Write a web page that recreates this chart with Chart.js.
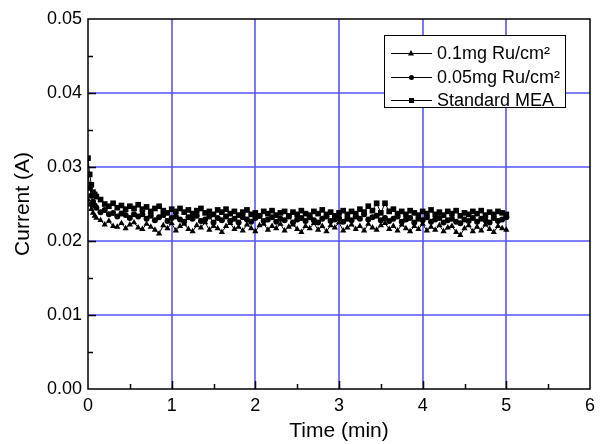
<!DOCTYPE html>
<html>
<head>
<meta charset="utf-8">
<script src="https://cdn.jsdelivr.net/npm/chart.js@4.4.0/dist/chart.umd.min.js"></script>
<style>
  html, body { margin: 0; padding: 0; background: #fff; }
  #wrap { width: 603px; height: 444px; }
</style>
</head>
<body>
<div id="wrap"><canvas id="grafico" width="603" height="444"></canvas></div>
<script>
// tempo (min)
var tempos = [
  0, 0.02, 0.04, 0.06, 0.08, 0.10,
  0.15, 0.20, 0.25, 0.30, 0.35, 0.40, 0.45, 0.50, 0.55, 0.60,
  0.65, 0.70, 0.75, 0.80, 0.85, 0.90, 0.95, 1.00, 1.05, 1.10,
  1.15, 1.20, 1.25, 1.30, 1.35, 1.40, 1.45, 1.50, 1.55, 1.60,
  1.65, 1.70, 1.75, 1.80, 1.85, 1.90, 1.95, 2.00, 2.05, 2.10,
  2.15, 2.20, 2.25, 2.30, 2.35, 2.40, 2.45, 2.50, 2.55, 2.60,
  2.65, 2.70, 2.75, 2.80, 2.85, 2.90, 2.95, 3.00, 3.05, 3.10,
  3.15, 3.20, 3.25, 3.30, 3.35, 3.40, 3.45, 3.50, 3.55, 3.60,
  3.65, 3.70, 3.75, 3.80, 3.85, 3.90, 3.95, 4.00, 4.05, 4.10,
  4.15, 4.20, 4.25, 4.30, 4.35, 4.40, 4.45, 4.50, 4.55, 4.60,
  4.65, 4.70, 4.75, 4.80, 4.85, 4.90, 4.95, 5.00
];

// corrente (A)
var corrente01mg = [
  0.0256, 0.0249, 0.0243, 0.0238, 0.0234, 0.0231,
  0.0228, 0.0222, 0.0227, 0.0220, 0.0219, 0.0224, 0.0217, 0.0222, 0.0225, 0.0218,
  0.0216, 0.0223, 0.0219, 0.0215, 0.0210, 0.0221, 0.0217, 0.0224, 0.0214, 0.0220,
  0.0223, 0.0216, 0.0213, 0.0221, 0.0218, 0.0225, 0.0215, 0.0220, 0.0217, 0.0212,
  0.0220, 0.0224, 0.0216, 0.0219, 0.0214, 0.0222, 0.0217, 0.0213, 0.0221, 0.0223,
  0.0215, 0.0220, 0.0217, 0.0223, 0.0214, 0.0219, 0.0222, 0.0216, 0.0212, 0.0220,
  0.0217, 0.0224, 0.0215, 0.0220, 0.0213, 0.0221, 0.0218, 0.0225, 0.0214, 0.0218,
  0.0222, 0.0216, 0.0220, 0.0214, 0.0223, 0.0218, 0.0215, 0.0221, 0.0224, 0.0216,
  0.0220, 0.0214, 0.0222, 0.0217, 0.0213, 0.0220, 0.0216, 0.0223, 0.0214, 0.0219,
  0.0215, 0.0221, 0.0213, 0.0218, 0.0220, 0.0212, 0.0208, 0.0217, 0.0221, 0.0213,
  0.0219, 0.0214, 0.0222, 0.0216, 0.0212, 0.0220, 0.0217, 0.0215
];

var corrente005mg = [
  0.0290, 0.0272, 0.0261, 0.0253, 0.0248, 0.0245,
  0.0239, 0.0242, 0.0236, 0.0238, 0.0233, 0.0237, 0.0235, 0.0231, 0.0236, 0.0233,
  0.0236, 0.0230, 0.0234, 0.0228, 0.0232, 0.0235, 0.0227, 0.0231, 0.0233, 0.0229,
  0.0226, 0.0232, 0.0230, 0.0234, 0.0227, 0.0229, 0.0233, 0.0225, 0.0231, 0.0228,
  0.0233, 0.0227, 0.0230, 0.0225, 0.0232, 0.0229, 0.0226, 0.0231, 0.0234, 0.0227,
  0.0229, 0.0232, 0.0226, 0.0230, 0.0228, 0.0233, 0.0225, 0.0229, 0.0231, 0.0227,
  0.0232, 0.0228, 0.0225, 0.0230, 0.0233, 0.0227, 0.0229, 0.0231, 0.0226, 0.0230,
  0.0228, 0.0233, 0.0230, 0.0236, 0.0229, 0.0232, 0.0234, 0.0228, 0.0231, 0.0227,
  0.0230, 0.0233, 0.0226, 0.0229, 0.0231, 0.0225, 0.0230, 0.0228, 0.0232, 0.0226,
  0.0229, 0.0231, 0.0225, 0.0228, 0.0230, 0.0226, 0.0224, 0.0229, 0.0227, 0.0231,
  0.0226, 0.0230, 0.0228, 0.0225, 0.0231, 0.0227, 0.0229, 0.0232
];

var correntePadrao = [
  0.0312, 0.0290, 0.0276, 0.0266, 0.0263, 0.0260,
  0.0256, 0.0250, 0.0247, 0.0251, 0.0245, 0.0248, 0.0243, 0.0247, 0.0244, 0.0249,
  0.0243, 0.0246, 0.0240, 0.0244, 0.0247, 0.0241, 0.0238, 0.0243, 0.0240, 0.0244,
  0.0239, 0.0242, 0.0237, 0.0241, 0.0244, 0.0238, 0.0240, 0.0236, 0.0242, 0.0239,
  0.0243, 0.0237, 0.0240, 0.0235, 0.0239, 0.0242, 0.0236, 0.0238, 0.0234, 0.0240,
  0.0237, 0.0241, 0.0235, 0.0238, 0.0240, 0.0234, 0.0239, 0.0236, 0.0241, 0.0237,
  0.0235, 0.0240, 0.0237, 0.0242, 0.0236, 0.0239, 0.0234, 0.0238, 0.0241, 0.0236,
  0.0240, 0.0237, 0.0243, 0.0239, 0.0247, 0.0241, 0.0251, 0.0238, 0.0251, 0.0240,
  0.0243, 0.0237, 0.0240, 0.0236, 0.0241, 0.0238, 0.0235, 0.0240, 0.0237, 0.0242,
  0.0236, 0.0239, 0.0235, 0.0240, 0.0237, 0.0241, 0.0234, 0.0238, 0.0236, 0.0240,
  0.0237, 0.0241, 0.0235, 0.0239, 0.0236, 0.0240, 0.0238, 0.0236
];

var nomesSeries = ["0.1mg Ru/cm²", "0.05mg Ru/cm²", "Standard MEA"];
var estilosPontos = ["triangle", "circle", "rect"];

var corGrade = "#5555ff";
var fonte = "'Liberation Sans', Arial, sans-serif";

function montarPontos(valores)
{
    return valores.map(function (v, i) { return { x: tempos[i], y: v }; });
}

function serie(indice, valores, raio)
{
    return {
        label: nomesSeries[indice],
        data: montarPontos(valores),
        showLine: true,
        borderColor: "#000",
        borderWidth: 1,
        backgroundColor: "#000",
        pointStyle: estilosPontos[indice],
        pointRadius: raio,
        pointBorderWidth: 0,
        pointBackgroundColor: "#000"
    };
}

// grade azul desenhada antes das séries
var pluginGrade = {
    id: "grade",
    beforeDatasetsDraw: function (chart)
    {
        var ctx = chart.ctx;
        var a = chart.chartArea;
        ctx.save();
        ctx.strokeStyle = corGrade;
        ctx.lineWidth = 1.6;
        ctx.beginPath();
        chart.scales.x.ticks.forEach(function (t) {
            if (t.value <= 0 || t.value >= 6) return;
            var px = Math.round(chart.scales.x.getPixelForValue(t.value));
            ctx.moveTo(px, a.top);
            ctx.lineTo(px, a.bottom);
        });
        chart.scales.y.ticks.forEach(function (t) {
            if (t.value <= 1e-9 || t.value >= 0.05 - 1e-9) return;
            var py = Math.round(chart.scales.y.getPixelForValue(t.value));
            ctx.moveTo(a.left, py);
            ctx.lineTo(a.right, py);
        });
        ctx.stroke();
        ctx.restore();
    }
};

// moldura, ticks para dentro e legenda
var pluginMoldura = {
    id: "moldura",
    afterDraw: function (chart)
    {
        var ctx = chart.ctx;
        var a = chart.chartArea;
        var sx = chart.scales.x, sy = chart.scales.y;
        ctx.save();
        ctx.strokeStyle = "#000";
        ctx.lineWidth = 1.5;
        ctx.strokeRect(a.left, a.top, a.right - a.left, a.bottom - a.top);

        ctx.beginPath();
        for (var t = 0.5; t < 6; t += 0.5)
        {
            var px = Math.round(sx.getPixelForValue(t)) + 0.5;
            var len = (Math.abs(t - Math.round(t)) < 1e-6) ? 8 : 5;
            ctx.moveTo(px, a.bottom);
            ctx.lineTo(px, a.bottom - len);
        }
        for (var k = 1; k < 10; k++)
        {
            var py = Math.round(sy.getPixelForValue(k * 0.005)) + 0.5;
            var len2 = (k % 2 == 0) ? 8 : 5;
            ctx.moveTo(a.left, py);
            ctx.lineTo(a.left + len2, py);
        }
        ctx.stroke();

        // legenda
        var lx = 384, ly = 35, lw = 181, lh = 72;
        ctx.fillStyle = "#fff";
        ctx.fillRect(lx, ly, lw, lh);
        ctx.lineWidth = 1;
        ctx.strokeRect(lx + 0.5, ly + 0.5, lw, lh);
        var linhas = [53, 77, 100];
        ctx.font = "18px " + fonte;
        ctx.textBaseline = "middle";
        ctx.textAlign = "left";
        for (var i = 0; i < 3; i++)
        {
            var y = linhas[i];
            ctx.beginPath();
            ctx.moveTo(391, y + 0.5);
            ctx.lineTo(432, y + 0.5);
            ctx.stroke();
            ctx.fillStyle = "#000";
            ctx.beginPath();
            if (i == 0)
            {
                ctx.moveTo(411, y - 3);
                ctx.lineTo(414, y + 2.5);
                ctx.lineTo(408, y + 2.5);
                ctx.closePath();
            }
            else if (i == 1)
            {
                ctx.arc(411.5, y + 0.5, 2.5, 0, Math.PI * 2);
            }
            else
            {
                ctx.rect(409, y - 2, 5, 5);
            }
            ctx.fill();
            ctx.fillText(nomesSeries[i], 437, y + 1);
        }
        ctx.restore();
    }
};

var ctxGrafico = document.getElementById("grafico");
var meuGrafico = new Chart(ctxGrafico, {
    type: "scatter",
    data: {
        datasets: [
            serie(0, corrente01mg, 3.6),
            serie(1, corrente005mg, 3),
            serie(2, correntePadrao, 4)
        ]
    },
    options: {
        responsive: false,
        animation: false,
        layout: { padding: { top: 19, right: 13, left: 0, bottom: 0 } },
        plugins: {
            legend: { display: false },
            tooltip: { enabled: false }
        },
        scales: {
            x: {
                type: "linear",
                min: 0,
                max: 6,
                afterFit: function (s) { s.height = 55; },
                ticks: {
                    stepSize: 1,
                    color: "#000",
                    font: { family: fonte, size: 18 },
                    padding: 6,
                    maxRotation: 0
                },
                grid: { display: false, drawTicks: false },
                border: { display: false },
                title: {
                    display: true,
                    text: "Time (min)",
                    color: "#000",
                    font: { family: fonte, size: 21 },
                    padding: { top: 0, bottom: 0 }
                }
            },
            y: {
                min: 0,
                max: 0.05,
                afterFit: function (s) { s.width = 88; },
                ticks: {
                    stepSize: 0.01,
                    color: "#000",
                    font: { family: fonte, size: 18 },
                    padding: 6,
                    callback: function (v) { return v.toFixed(2); }
                },
                grid: { display: false, drawTicks: false },
                border: { display: false },
                title: {
                    display: true,
                    text: "Current (A)",
                    color: "#000",
                    font: { family: fonte, size: 21 },
                    padding: { top: 11, bottom: 0 }
                }
            }
        }
    },
    plugins: [pluginGrade, pluginMoldura]
});
</script>
</body>
</html>
